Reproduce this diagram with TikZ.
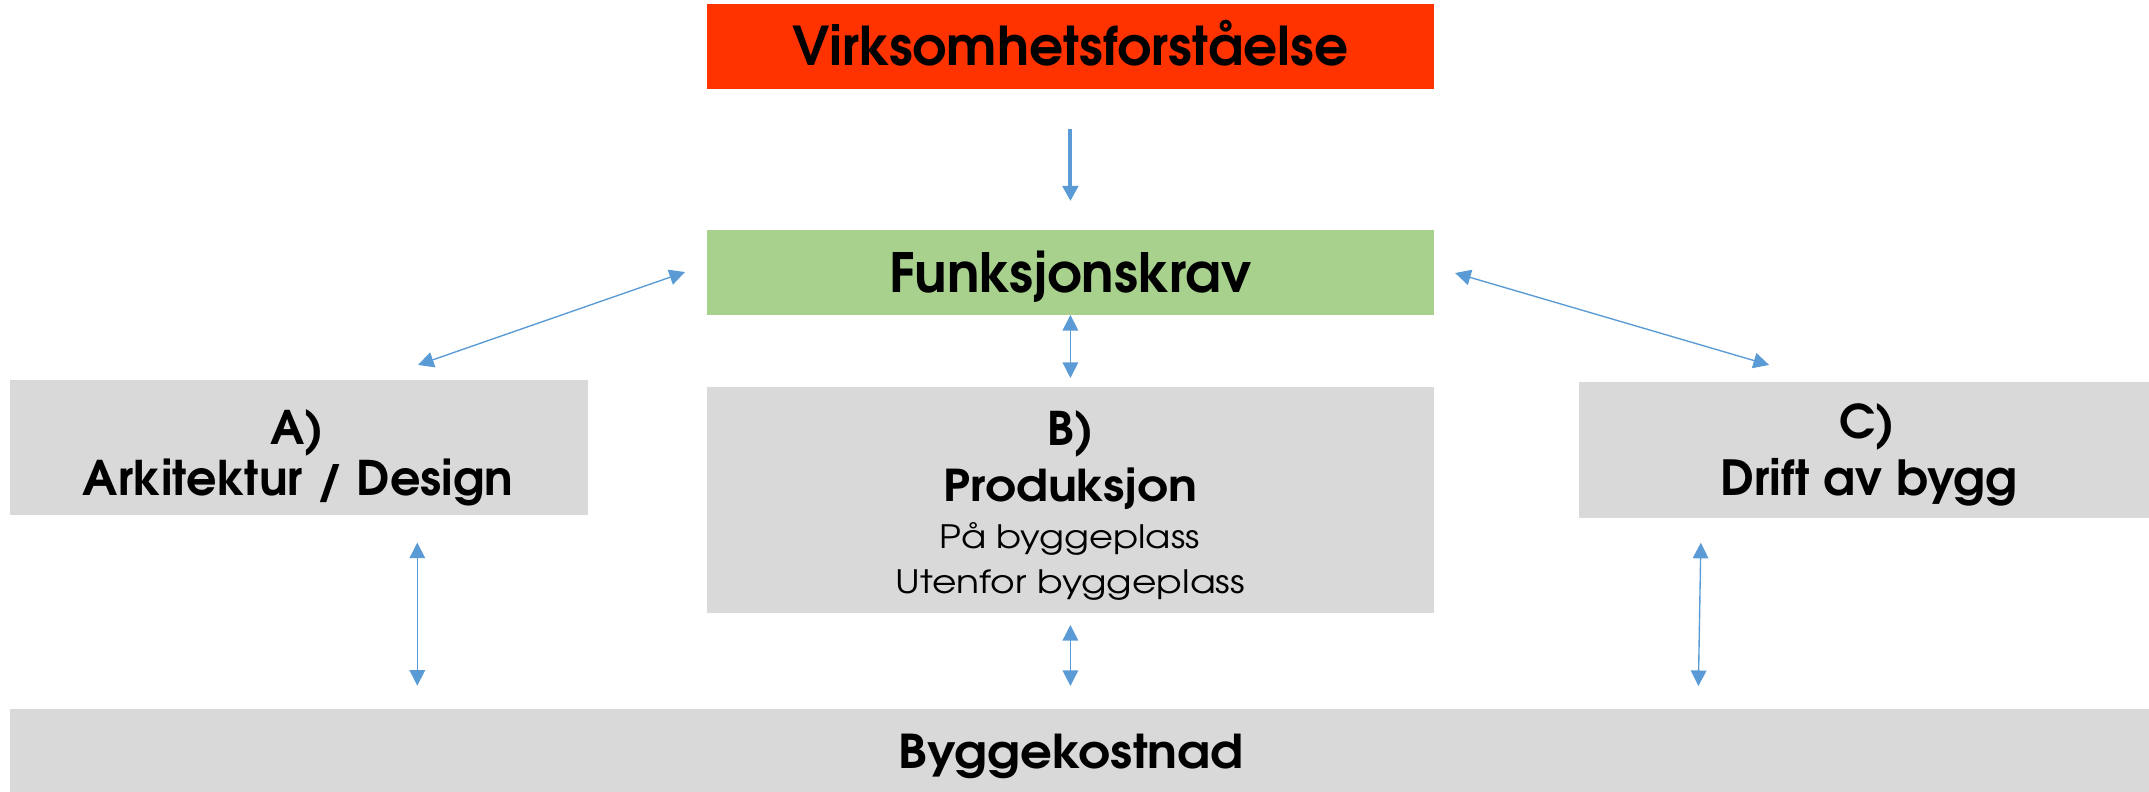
\documentclass[tikz,border=0pt]{standalone}
\usepackage{fontspec}
\usepackage{graphicx}
\setmainfont{TeX Gyre Adventor}
\usetikzlibrary{arrows.meta,calc}
\definecolor{redbox}{HTML}{FF3300}
\definecolor{greenbox}{HTML}{A9D18E}
\definecolor{graybox}{HTML}{D9D9D9}
\definecolor{arrowblue}{HTML}{5B9BD5}
\newcommand{\wide}[2]{\scalebox{#1}[1]{#2}}
\begin{document}
\begin{tikzpicture}[x=1pt,y=-1pt,
  boxnode/.style={rectangle, inner sep=0pt, outer sep=0pt, text depth=0pt},
  lbl/.style={anchor=base, inner sep=0pt, outer sep=0pt},
  letterbold/.style={font=\fontsize{33.8}{40}\selectfont\bfseries},
  midbold/.style={font=\fontsize{35}{42}\selectfont\bfseries},
  smallbold/.style={font=\fontsize{32}{38}\selectfont\bfseries},
  smallreg/.style={font=\fontsize{23.5}{28}\selectfont},
  conn/.style={draw=arrowblue, line width=1pt,
    arrows={Triangle[length=11.4pt,width=11.4pt]-Triangle[length=11.4pt,width=11.4pt]}},
  oneway/.style={draw=arrowblue, line width=2.9pt,
    arrows={-Triangle[length=11pt,width=11.2pt]}},
]
\useasboundingbox (0,0) rectangle (1568,577.15);

% boxes
\node[boxnode, fill=redbox, minimum width=530pt, minimum height=61.7pt,
      text height=28.6pt, font=\fontsize{39}{46}\selectfont\bfseries] (virk) at (781,33.85) {Virksomhetsforståelse};
\node[boxnode, fill=greenbox, minimum width=530pt, minimum height=62pt,
      text height=29.2pt, font=\fontsize{39.5}{46}\selectfont\bfseries] (funk) at (781,198.8) {Funksjonskrav};
\node[boxnode, fill=graybox, minimum width=422pt, minimum height=98.7pt] (A) at (218,326.65) {};
\node[boxnode, fill=graybox, minimum width=530pt, minimum height=164.9pt] (B) at (781,364.85) {};
\node[boxnode, fill=graybox, minimum width=423pt, minimum height=98.9pt] (C) at (1363.5,328.25) {};
\node[boxnode, fill=graybox, minimum width=1568pt, minimum height=63pt] (bot) at (791,548.5) {};

% texts
\node[lbl, letterbold] (tA1) at (217,324.2) {A)};
\node[lbl, font=\fontsize{34.8}{42}\selectfont\bfseries] (tA2) at (217.5,361.2) {Arkitektur / Design};
\node[lbl, letterbold] (tB1) at (781,324.7) {B)};
\node[lbl, smallbold] (tB2) at (781,366) {\wide{1.1}{Produksjon}};
\node[lbl, smallreg] (tB3) at (780.5,400) {\wide{1.145}{På byggeplass}};
\node[lbl, smallreg] (tB4) at (781,433) {\wide{1.17}{Utenfor byggeplass}};
\node[lbl, letterbold] (tC1) at (1362.5,319.6) {C)};
\node[lbl, font=\fontsize{35.3}{42}\selectfont\bfseries] (tC2) at (1363.5,361.6) {Drift av bygg};
\node[lbl, font=\fontsize{34}{40}\selectfont\bfseries] (tBy) at (781.5,561) {\wide{1.07}{Byggekostnad}};

% connectors
\draw[oneway] ($(virk.south)+(0,29.3)$) -- ($(funk.north)+(0,-21.1)$);
\draw[conn] ($(funk.west)+(-16.2,-0.3)$) -- ($(A.north)+(87,-11)$);
\draw[conn] ($(funk.east)+(15.7,0.4)$) -- ($(C.north)+(-72.7,-12.5)$);
\draw[conn] (funk.south) -- ($(B.north)+(0,-6.6)$);
\draw[conn] ($(B.south)+(0,8.7)$) -- ($(bot.north)+(-10,-16.5)$);
\draw[conn] ($(A.south)+(86.5,19.9)$) -- ($(bot.north)+(-486.5,-16.7)$);
\draw[conn] ($(C.south)+(-122.5,18.3)$) -- ($(bot.north)+(448.2,-16.4)$);
\end{tikzpicture}
\end{document}
